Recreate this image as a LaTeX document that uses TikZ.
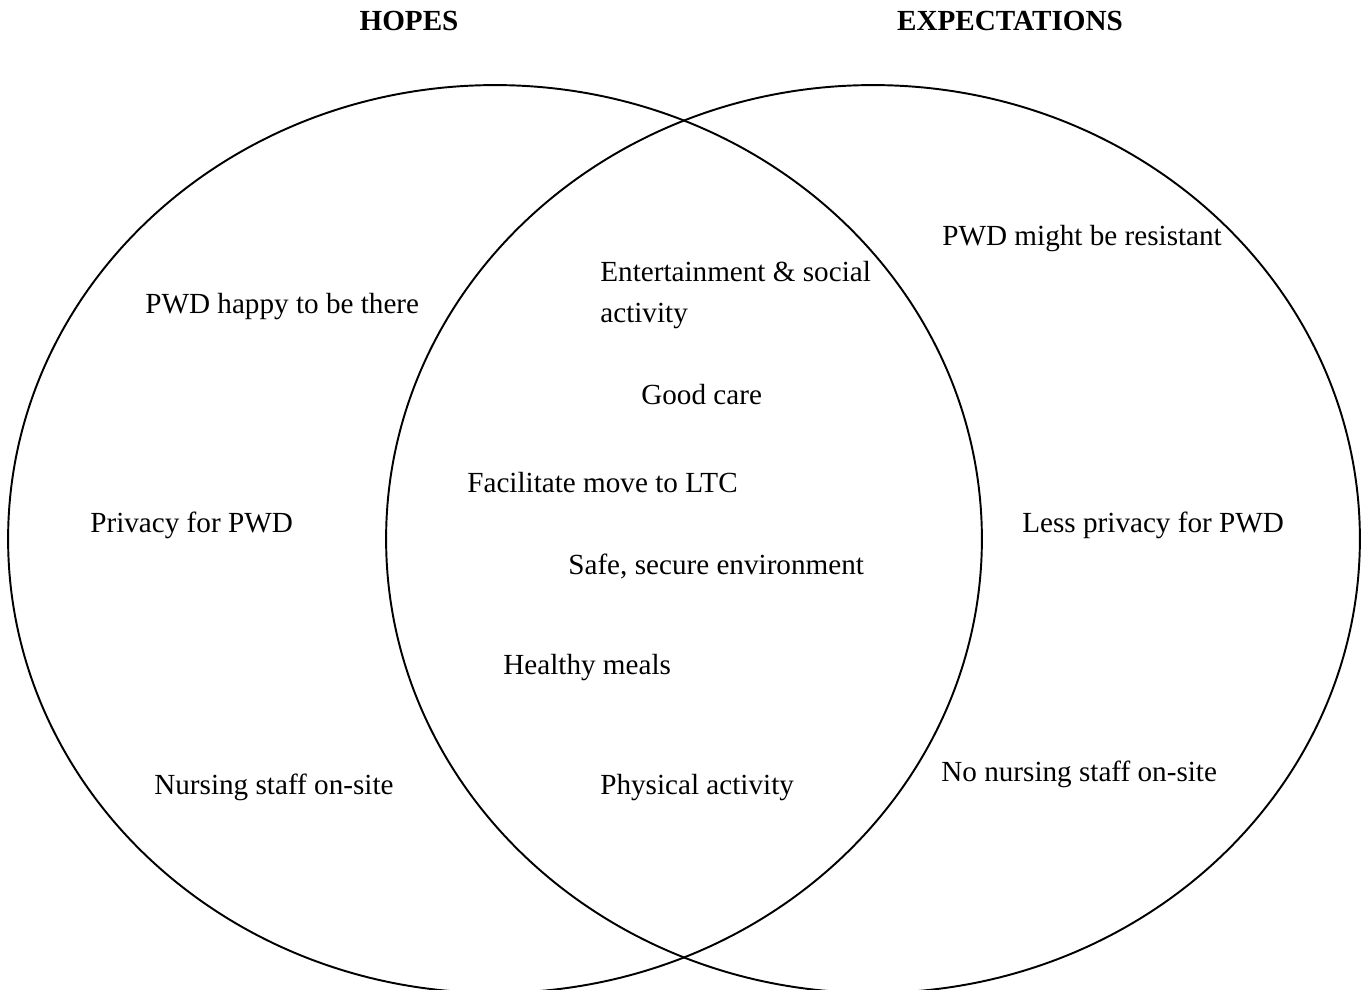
\documentclass[tikz,border=0pt]{standalone}
\usepackage{fontspec}
\setmainfont{Liberation Serif}
\begin{document}
\begin{tikzpicture}[x=0.02cm,y=-0.02cm,
  ring/.style={line width=1.1pt},
  item/.style={anchor=base west,inner sep=0pt,align=left,font=\fontsize{16.6pt}{20pt}\selectfont},
  head/.style={anchor=base,inner sep=0pt,font=\fontsize{16.6pt}{20pt}\selectfont\bfseries}]
\useasboundingbox (0,0) rectangle (1367,990);
% the two sets
\draw[ring] (495,539) ellipse (9.74cm and 9.08cm);
\draw[ring] (873,539) ellipse (9.74cm and 9.08cm);
\node[head] (hopes) at (409,31) {HOPES};
\node[head] (expect) at (1010,31) {EXPECTATIONS};
% hopes only
\node[item] (happy) at (145,314) {PWD happy to be there};
\node[item] (privacy) at (90,532) {Privacy for PWD};
\node[item] (nursing) at (154,794) {Nursing staff on-site};
% both
\node[item,font=\fontsize{16.6pt}{22.8pt}\selectfont] (social) at (600,322) {Entertainment \& social\\activity};
\node[item] (care) at (641,404) {Good care};
\node[item] (move) at (467,492) {Facilitate move to LTC};
\node[item] (safe) at (568,574) {Safe, secure environment};
\node[item] (meals) at (503,674) {Healthy meals};
\node[item] (physical) at (600,794) {Physical activity};
% expectations only
\node[item] (resist) at (942,245) {PWD might be resistant};
\node[item] (less) at (1022,532) {Less privacy for PWD};
\node[item] (nonursing) at (941,781) {No nursing staff on-site};
\end{tikzpicture}
\end{document}
